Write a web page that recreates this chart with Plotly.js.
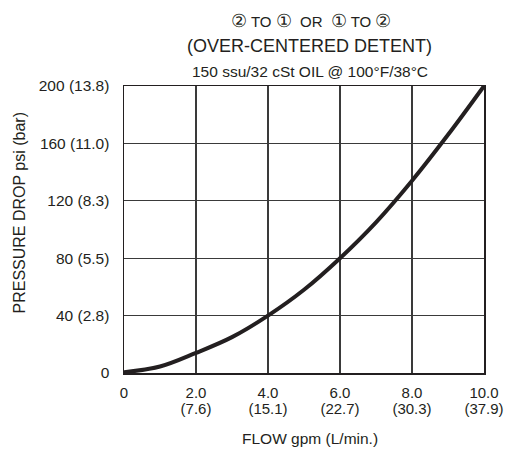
<!DOCTYPE html>
<html>
<head>
<meta charset="utf-8">
<script src="https://cdn.plot.ly/plotly-3.0.1.min.js"></script>
<style>html,body{margin:0;padding:0;background:#fff;}#chart{width:507px;height:451px;}</style>
</head>
<body>
<div id="chart"></div>
<script>
// Flow (gpm) and pressure drop (psi)
const flowGpm = [0, 1, 2, 3, 4, 5, 6, 7, 8, 9, 10];
const pressurePsi = [0.5, 4.5, 14, 25, 40, 58, 80, 105, 134, 166, 200];

const xTickVals = [0, 2, 4, 6, 8, 10];
const xTickGpm = ["0", "2.0", "4.0", "6.0", "8.0", "10.0"];
const xTickLpm = ["", "(7.6)", "(15.1)", "(22.7)", "(30.3)", "(37.9)"];
const yTickVals = [0, 40, 80, 120, 160, 200];
const yTickText = ["0", "40 (2.8)", "80 (5.5)", "120 (8.3)", "160 (11.0)", "200 (13.8)"];

const titleLine1 = '<span style="font-size:18px">②</span> TO <span style="font-size:18px">①</span>  OR  <span style="font-size:18px">①</span> TO <span style="font-size:18px">②</span>';
const titleLine2 = "(OVER-CENTERED DETENT)";
const titleLine3 = "150 ssu/32 cSt OIL @ 100°F/38°C";
const xTitle = "FLOW gpm (L/min.)";
const yTitle = "PRESSURE DROP psi (bar)";

const ink = "#231f20";
const fontFam = "Liberation Sans, Arial, Helvetica, sans-serif";

const trace = {
  x: flowGpm, y: pressurePsi, type: "scatter", mode: "lines",
  line: {color: ink, width: 4, shape: "spline", smoothing: 1},
  hoverinfo: "skip", showlegend: false
};
// invisible trace to anchor the second (L/min) label axis
const trace2 = {
  x: flowGpm, y: pressurePsi, xaxis: "x2", type: "scatter", mode: "lines",
  line: {width: 0, color: "rgba(0,0,0,0)"}, hoverinfo: "skip", showlegend: false
};

const layout = {
  width: 507, height: 451,
  margin: {l: 124, r: 23, t: 86, b: 78, pad: 0},
  paper_bgcolor: "#fff", plot_bgcolor: "#fff",
  font: {family: fontFam, color: ink, size: 15.5},
  showlegend: false,
  xaxis: {
    range: [0, 10], fixedrange: true,
    tickvals: xTickVals, ticktext: xTickGpm,
    ticks: "", ticklabelstandoff: 5,
    showgrid: true, gridcolor: "#3a3a3a", gridwidth: 1.3,
    zeroline: false, showline: true, mirror: true, linecolor: ink, linewidth: 1.5,
    tickfont: {size: 15, color: ink}
  },
  xaxis2: {
    range: [0, 10], fixedrange: true, overlaying: "x", side: "bottom", anchor: "y",
    tickvals: xTickVals, ticktext: xTickLpm,
    ticks: "", ticklabelstandoff: 25,
    showgrid: false, zeroline: false, showline: false,
    tickfont: {size: 15, color: ink}
  },
  yaxis: {
    range: [0, 200], fixedrange: true,
    tickvals: yTickVals, ticktext: yTickText,
    ticks: "", ticklabelstandoff: 10,
    showgrid: true, gridcolor: "#3a3a3a", gridwidth: 1.3,
    zeroline: false, showline: true, mirror: true, linecolor: ink, linewidth: 1.5,
    tickfont: {size: 15.5, color: ink}
  },
  annotations: [
    {text: titleLine1, xref: "paper", yref: "paper", x: 0.52, y: 1 + (86 - 21) / 287, xanchor: "center", yanchor: "middle", showarrow: false, font: {size: 15, color: ink}},
    {text: titleLine2, xref: "paper", yref: "paper", x: 0.5153, y: 1 + (86 - 46) / 287, xanchor: "center", yanchor: "middle", showarrow: false, font: {size: 18, color: ink}},
    {text: titleLine3, xref: "paper", yref: "paper", x: 0.5153, y: 1 + (86 - 72) / 287, xanchor: "center", yanchor: "middle", showarrow: false, font: {size: 15.5, color: ink}},
    {text: xTitle, xref: "paper", yref: "paper", x: 0.5153, y: (373 - 439) / 287, xanchor: "center", yanchor: "middle", showarrow: false, font: {size: 15.5, color: ink}},
    {text: yTitle, xref: "paper", yref: "paper", x: (18.5 - 124) / 360, y: (373 - 213) / 287, textangle: -90, xanchor: "center", yanchor: "middle", showarrow: false, font: {size: 16, color: ink}}
  ]
};

Plotly.newPlot("chart", [trace, trace2], layout, {displayModeBar: false, staticPlot: true});
</script>
</body>
</html>
